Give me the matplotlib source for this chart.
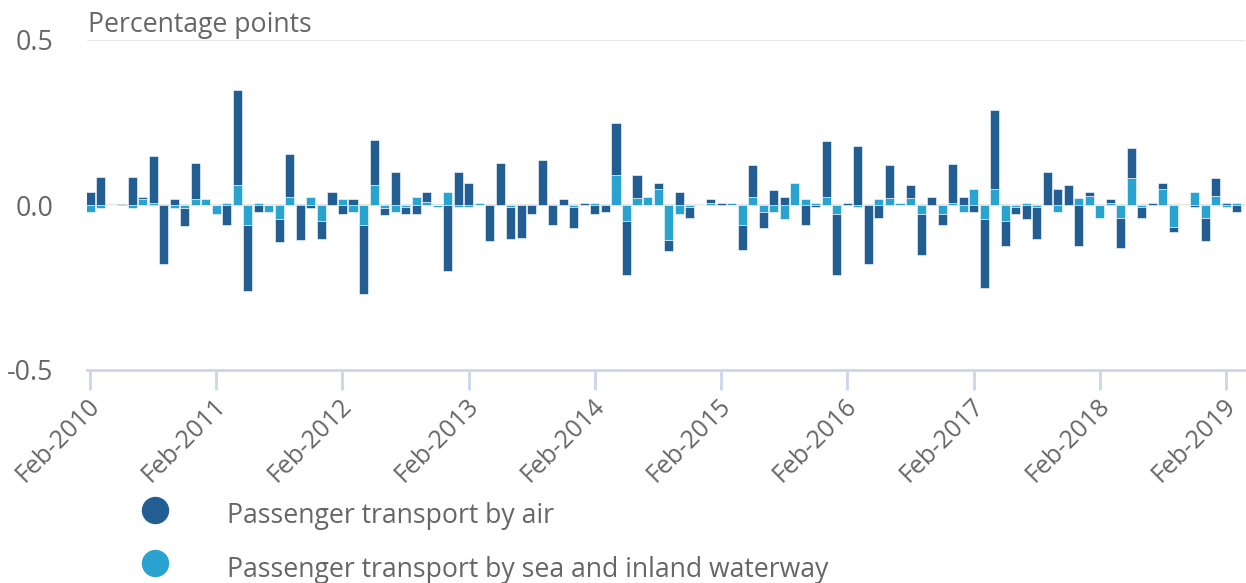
import numpy as np
import matplotlib
matplotlib.use("Agg")
import matplotlib.pyplot as plt
from matplotlib.lines import Line2D
from matplotlib.transforms import ScaledTranslation

plt.rcParams["font.family"] = ["Open Sans", "DejaVu Sans"]
plt.rcParams["axes.unicode_minus"] = False

# ── Data (monthly, Feb-2010 .. Mar-2019), percentage points ──────────────────
air = [0.038, 0.086, 0.0, 0.004, 0.086, 0.007, 0.143, -0.18, 0.018, -0.056,
       0.11, 0.0, 0.0, -0.062, 0.286, -0.2, -0.021, 0.0, -0.069, 0.13,
       -0.105, -0.008, -0.054, 0.038, -0.028, 0.018, -0.207, 0.135, -0.021, 0.1,
       -0.021, -0.028, 0.03, 0.0, -0.2, 0.1, 0.067, 0.0, -0.11, 0.128,
       -0.097, -0.1, -0.028, 0.135, -0.062, 0.018, -0.063, 0.005, -0.028, -0.021,
       0.158, -0.165, 0.07, 0.0, 0.02, -0.034, 0.04, -0.034, 0.0, 0.013,
       0.005, 0.0, -0.075, 0.097, -0.048, 0.046, 0.025, 0.0, -0.062, -0.006,
       0.17, -0.185, 0.005, 0.178, -0.18, -0.04, 0.1, 0.0, 0.04, -0.123,
       0.025, -0.034, 0.118, 0.025, -0.021, -0.21, 0.24, -0.075, -0.021, -0.043,
       -0.097, 0.1, 0.048, 0.06, -0.123, 0.013, 0.0, 0.013, -0.089, 0.09,
       -0.034, 0.005, 0.02, -0.013, 0.0, -0.006, -0.069, 0.055, 0.006, -0.021]
sea = [-0.021, -0.008, 0.0, 0.0, -0.008, 0.018, 0.005, 0.0, -0.008, -0.008,
       0.018, 0.018, -0.028, 0.005, 0.061, -0.062, 0.005, -0.021, -0.043, 0.025,
       0.004, 0.025, -0.048, 0.0, 0.018, -0.021, -0.062, 0.062, -0.008, -0.021,
       -0.006, 0.025, 0.008, -0.006, 0.038, -0.006, -0.006, 0.005, 0.0, 0.0,
       -0.006, 0.0, 0.0, 0.0, 0.0, 0.0, -0.006, 0.0, 0.005, 0.0,
       0.09, -0.048, 0.02, 0.025, 0.047, -0.105, -0.028, -0.006, 0.0, 0.005,
       0.0, 0.005, -0.062, 0.025, -0.021, -0.021, -0.043, 0.067, 0.018, 0.005,
       0.025, -0.028, 0.0, -0.006, 0.0, 0.018, 0.02, 0.005, 0.02, -0.028,
       0.0, -0.028, 0.005, -0.021, 0.047, -0.043, 0.047, -0.048, -0.006, 0.005,
       -0.006, 0.0, -0.021, 0.0, 0.02, 0.027, -0.04, 0.006, -0.04, 0.082,
       -0.006, 0.0, 0.047, -0.068, 0.0, 0.04, -0.04, 0.027, -0.006, 0.005]
tick_labels = ["Feb-2010", "Feb-2011", "Feb-2012", "Feb-2013", "Feb-2014",
               "Feb-2015", "Feb-2016", "Feb-2017", "Feb-2018", "Feb-2019"]
series_names = ["Passenger transport by air",
                "Passenger transport by sea and inland waterway"]

AIR_COLOR = "#225e92"
SEA_COLOR = "#29a3cf"
TEXT_COLOR = "#666666"
AXIS_COLOR = "#ccd6eb"
FS = 19.2
FS_X = 18.0

air = np.array(air)
sea = np.array(sea)
x = np.arange(len(air))

# Highcharts-style stacking: sea next to zero, air stacked beyond it (same sign)
air_bottom = np.where(np.sign(air) == np.sign(sea), sea, 0.0)

W, H = 1246, 583
fig = plt.figure(figsize=(W / 100, H / 100), dpi=100)
ax = fig.add_axes([87 / W, 1 - 370 / H, (1245 - 87) / W, (370 - 40) / H])

for yv in (0.5, 0.0):
    ax.axhline(yv, color="#e6e6e6", lw=1.5, zorder=0)

ax.bar(x, sea, width=0.86, color=SEA_COLOR, edgecolor="white", linewidth=0.4, zorder=2)
ax.bar(x, air, bottom=air_bottom, width=0.86, color=AIR_COLOR,
       edgecolor="white", linewidth=0.4, zorder=2)

ax.set_xlim(-0.29, 109.8)
ax.set_ylim(-0.5, 0.5)

for side in ("top", "right", "left"):
    ax.spines[side].set_visible(False)
ax.spines["bottom"].set_color(AXIS_COLOR)
ax.spines["bottom"].set_linewidth(2)

ax.set_yticks([-0.5, 0.0, 0.5])
ax.set_yticklabels(["-0.5", "0.0", "0.5"])
ax.tick_params(axis="y", length=0, pad=24, labelsize=FS, labelcolor=TEXT_COLOR)

ax.set_xticks(np.arange(0, 109, 12))
ax.set_xticklabels(tick_labels, rotation=45, ha="right", va="center",
                   rotation_mode="anchor")
ax.tick_params(axis="x", length=14.4, width=2, color=AXIS_COLOR, pad=8.6,
               labelsize=FS_X, labelcolor=TEXT_COLOR)
offset = ScaledTranslation(6 / 100, 0, fig.dpi_scale_trans)
for lbl in ax.get_xticklabels():
    lbl.set_transform(lbl.get_transform() + offset)

fig.text(88 / W, 1 - 32 / H, "Percentage points", fontsize=FS,
         color=TEXT_COLOR, va="baseline", ha="left")

# legend
for name, color, cy, by in zip(series_names, [AIR_COLOR, SEA_COLOR],
                               [510, 563], [523, 577]):
    fig.add_artist(Line2D([155 / W], [1 - cy / H], marker="o", markersize=18.7,
                          color=color, linestyle="none",
                          transform=fig.transFigure))
    fig.text(227 / W, 1 - by / H, name, fontsize=FS, color=TEXT_COLOR,
             va="baseline", ha="left")

fig.savefig("out.png", dpi=100)
